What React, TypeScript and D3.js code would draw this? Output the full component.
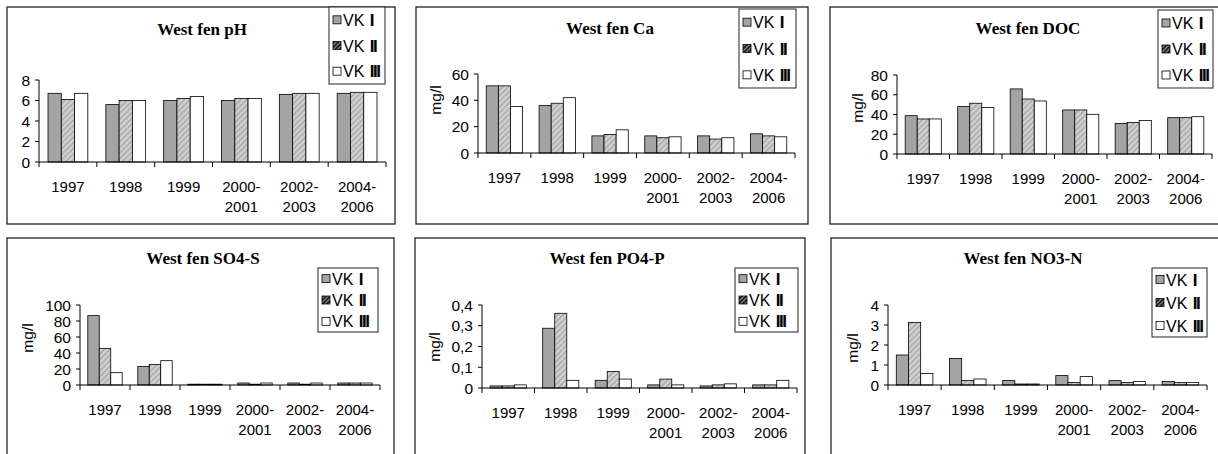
import React from "react";
import * as d3 from "d3";

const categories = ["1997", "1998", "1999", "2000-\n2001", "2002-\n2003", "2004-\n2006"];
const seriesNames = ["VK I", "VK II", "VK III"];

const phVK1 = [6.7, 5.6, 6.0, 6.0, 6.6, 6.7];
const phVK2 = [6.1, 6.0, 6.2, 6.2, 6.7, 6.8];
const phVK3 = [6.7, 6.0, 6.4, 6.2, 6.7, 6.8];

const caVK1 = [51, 36, 13, 13, 13, 14.6];
const caVK2 = [51, 37.8, 14, 11.6, 10.6, 13];
const caVK3 = [35.3, 42, 17.6, 12.3, 11.6, 12.3];

const docVK1 = [38.8, 48, 65.9, 44.6, 31, 36.8];
const docVK2 = [35.5, 51.4, 55.7, 44.6, 32, 36.8];
const docVK3 = [35.5, 47, 53.7, 40.2, 34, 37.8];

const so4VK1 = [86.7, 23.3, 1, 2.5, 2.5, 2.5];
const so4VK2 = [45.8, 25.8, 1, 1, 1, 2.5];
const so4VK3 = [15.4, 30.4, 1, 2.5, 2.5, 2.5];

const po4VK1 = [0.01, 0.288, 0.037, 0.015, 0.01, 0.015];
const po4VK2 = [0.01, 0.36, 0.08, 0.043, 0.015, 0.015];
const po4VK3 = [0.015, 0.037, 0.043, 0.015, 0.02, 0.037];

const no3VK1 = [1.5, 1.33, 0.22, 0.47, 0.22, 0.18];
const no3VK2 = [3.13, 0.22, 0.05, 0.13, 0.12, 0.12];
const no3VK3 = [0.58, 0.3, 0.05, 0.42, 0.17, 0.12];

const titles = ["West fen pH", "West fen Ca", "West fen DOC", "West fen SO4-S", "West fen PO4-P", "West fen NO3-N"];
const yMaxes = [8, 60, 80, 100, 0.4, 4];
const yTicksList = [
  [0, 2, 4, 6, 8],
  [0, 20, 40, 60],
  [0, 20, 40, 60, 80],
  [0, 20, 40, 60, 80, 100],
  [0, 0.1, 0.2, 0.3, 0.4],
  [0, 1, 2, 3, 4],
];
const yLabels = ["", "mg/l", "mg/l", "mg/l", "mg/l", "mg/l"];

const panelData = [
  [phVK1, phVK2, phVK3],
  [caVK1, caVK2, caVK3],
  [docVK1, docVK2, docVK3],
  [so4VK1, so4VK2, so4VK3],
  [po4VK1, po4VK2, po4VK3],
  [no3VK1, no3VK2, no3VK3],
];

// layout (pixels)
const layouts = [
  { frame: [7, 7, 395, 224], title: [202, 35], plot: [39, 386, 162, 80], ylab: [0, 0], legend: [329, 7, 385, 84] },
  { frame: [416, 7, 808, 224], title: [610, 34], plot: [478, 795, 153, 74], ylab: [441, 100], legend: [739, 9, 796, 88] },
  { frame: [830, 7, 1226, 224], title: [1028, 34], plot: [897, 1212, 154, 75], ylab: [863, 108], legend: [1158, 10, 1213, 88] },
  { frame: [7, 238, 394, 462], title: [203, 264], plot: [80, 380, 385, 305], ylab: [33, 338], legend: [318, 268, 378, 332] },
  { frame: [415, 238, 805, 462], title: [607, 264], plot: [482, 797, 388, 305], ylab: [440, 347], legend: [735, 268, 798, 332] },
  { frame: [831, 238, 1226, 462], title: [1023, 264], plot: [888, 1207, 385, 305], ylab: [858, 348], legend: [1152, 268, 1207, 337] },
];

const SANS = "'Liberation Sans', Arial, sans-serif";
const SERIF = "'Liberation Serif', 'Times New Roman', serif";
const fills = ["#a4a4a4", "url(#hatchBar)", "#ffffff"];
const legendFills = ["#a4a4a4", "url(#hatchLeg)", "#ffffff"];

const fmt = (v: number) => {
  const s = d3.format("~g")(v);
  return s.replace(".", ",");
};

function Panel({ idx }: { idx: number }) {
  const L = layouts[idx];
  const [fx0, fy0, fx1, fy1] = L.frame;
  const [px0, px1, pzero, ptop] = L.plot;
  const data = panelData[idx];
  const x0 = d3.scaleBand<string>().domain(categories).range([px0, px1]).paddingInner(0).paddingOuter(0);
  const x1 = d3
    .scaleBand<string>()
    .domain(seriesNames)
    .range([0, x0.bandwidth()])
    .paddingInner(0)
    .paddingOuter(0.68);
  const y = d3.scaleLinear().domain([0, yMaxes[idx]]).range([pzero, ptop]);
  const [lx0, ly0, lx1, ly1] = L.legend;
  const rowH = (ly1 - ly0) / 3;
  return (
    <g>
      <rect x={fx0} y={fy0} width={fx1 - fx0} height={fy1 - fy0} fill="#fff" stroke="#222" strokeWidth={1.3} />
      <text x={L.title[0]} y={L.title[1]} textAnchor="middle" fontFamily={SERIF} fontWeight="bold" fontSize={17} fill="#000">
        {titles[idx]}
      </text>
      {/* bars */}
      {categories.map((c, ci) =>
        seriesNames.map((s, si) => {
          const v = data[si][ci];
          const yy = y(v);
          return (
            <rect
              key={c + s}
              x={(x0(c) as number) + (x1(s) as number)}
              y={yy}
              width={x1.bandwidth()}
              height={pzero - yy}
              fill={fills[si]}
              stroke="#000"
              strokeWidth={0.8}
            />
          );
        })
      )}
      {/* y axis */}
      <line x1={px0} x2={px0} y1={ptop} y2={pzero} stroke="#000" strokeWidth={1} />
      {yTicksList[idx].map((t) => (
        <g key={t}>
          <line x1={px0 - 4} x2={px0} y1={y(t)} y2={y(t)} stroke="#000" strokeWidth={1} />
          <text x={px0 - 9} y={y(t) + 5.5} textAnchor="end" fontFamily={SANS} fontSize={15.5} fill="#000">
            {fmt(t)}
          </text>
        </g>
      ))}
      {/* x axis */}
      <line x1={px0} x2={px1} y1={pzero} y2={pzero} stroke="#000" strokeWidth={1} />
      {categories.map((c, ci) => (
        <line key={"t" + c} x1={x0(c) as number} x2={x0(c) as number} y1={pzero} y2={pzero + 5} stroke="#000" strokeWidth={1} />
      ))}
      <line x1={px1} x2={px1} y1={pzero} y2={pzero + 5} stroke="#000" strokeWidth={1} />
      {categories.map((c) => {
        const cx = (x0(c) as number) + x0.bandwidth() / 2;
        const lines = c.split("\n");
        return (
          <text key={"l" + c} textAnchor="middle" fontFamily={SANS} fontSize={15} fill="#000">
            {lines.map((ln, i) => (
              <tspan key={i} x={cx} y={pzero + 30 + i * 20}>
                {ln}
              </tspan>
            ))}
          </text>
        );
      })}
      {yLabels[idx] && (
        <text
          transform={`translate(${L.ylab[0]},${L.ylab[1]}) rotate(-90)`}
          textAnchor="middle"
          fontFamily={SANS}
          fontSize={15.5}
          fill="#000"
        >
          {yLabels[idx]}
        </text>
      )}
      {/* legend */}
      <rect x={lx0} y={ly0} width={lx1 - lx0} height={ly1 - ly0} fill="#fff" stroke="#222" strokeWidth={1} />
      {seriesNames.map((s, si) => {
        const cy = ly0 + rowH * (si + 0.5);
        const [base, num] = s.split(" ");
        return (
          <g key={"lg" + s}>
            <rect x={lx0 + 4} y={cy - 4} width={8} height={8} fill={legendFills[si]} stroke="#000" strokeWidth={0.8} />
            <text x={lx0 + 14} y={cy + 6} fontFamily={SANS} fontSize={16} fill="#000">
              {base + " "}
              <tspan fontWeight="bold" fontSize={17} letterSpacing={-1.5} dx={1}>{num}</tspan>
            </text>
          </g>
        );
      })}
    </g>
  );
}

export default function App() {
  return (
    <svg
      width={1218}
      height={454}
      viewBox="0 0 1218 454"
      style={{ position: "absolute", left: 0, top: 0, background: "#fff" }}
    >
      <defs>
        <pattern id="hatchBar" patternUnits="userSpaceOnUse" width={4} height={4} patternTransform="rotate(45)">
          <rect width={4} height={4} fill="#d2d2d2" />
          <rect width={1.6} height={4} fill="#a9a9a9" />
        </pattern>
        <pattern id="hatchLeg" patternUnits="userSpaceOnUse" width={3} height={3} patternTransform="rotate(45)">
          <rect width={3} height={3} fill="#222" />
          <rect width={1} height={3} fill="#999" />
        </pattern>
      </defs>
      <rect width={1218} height={454} fill="#fff" />
      {layouts.map((_, i) => (
        <Panel key={i} idx={i} />
      ))}
    </svg>
  );
}
